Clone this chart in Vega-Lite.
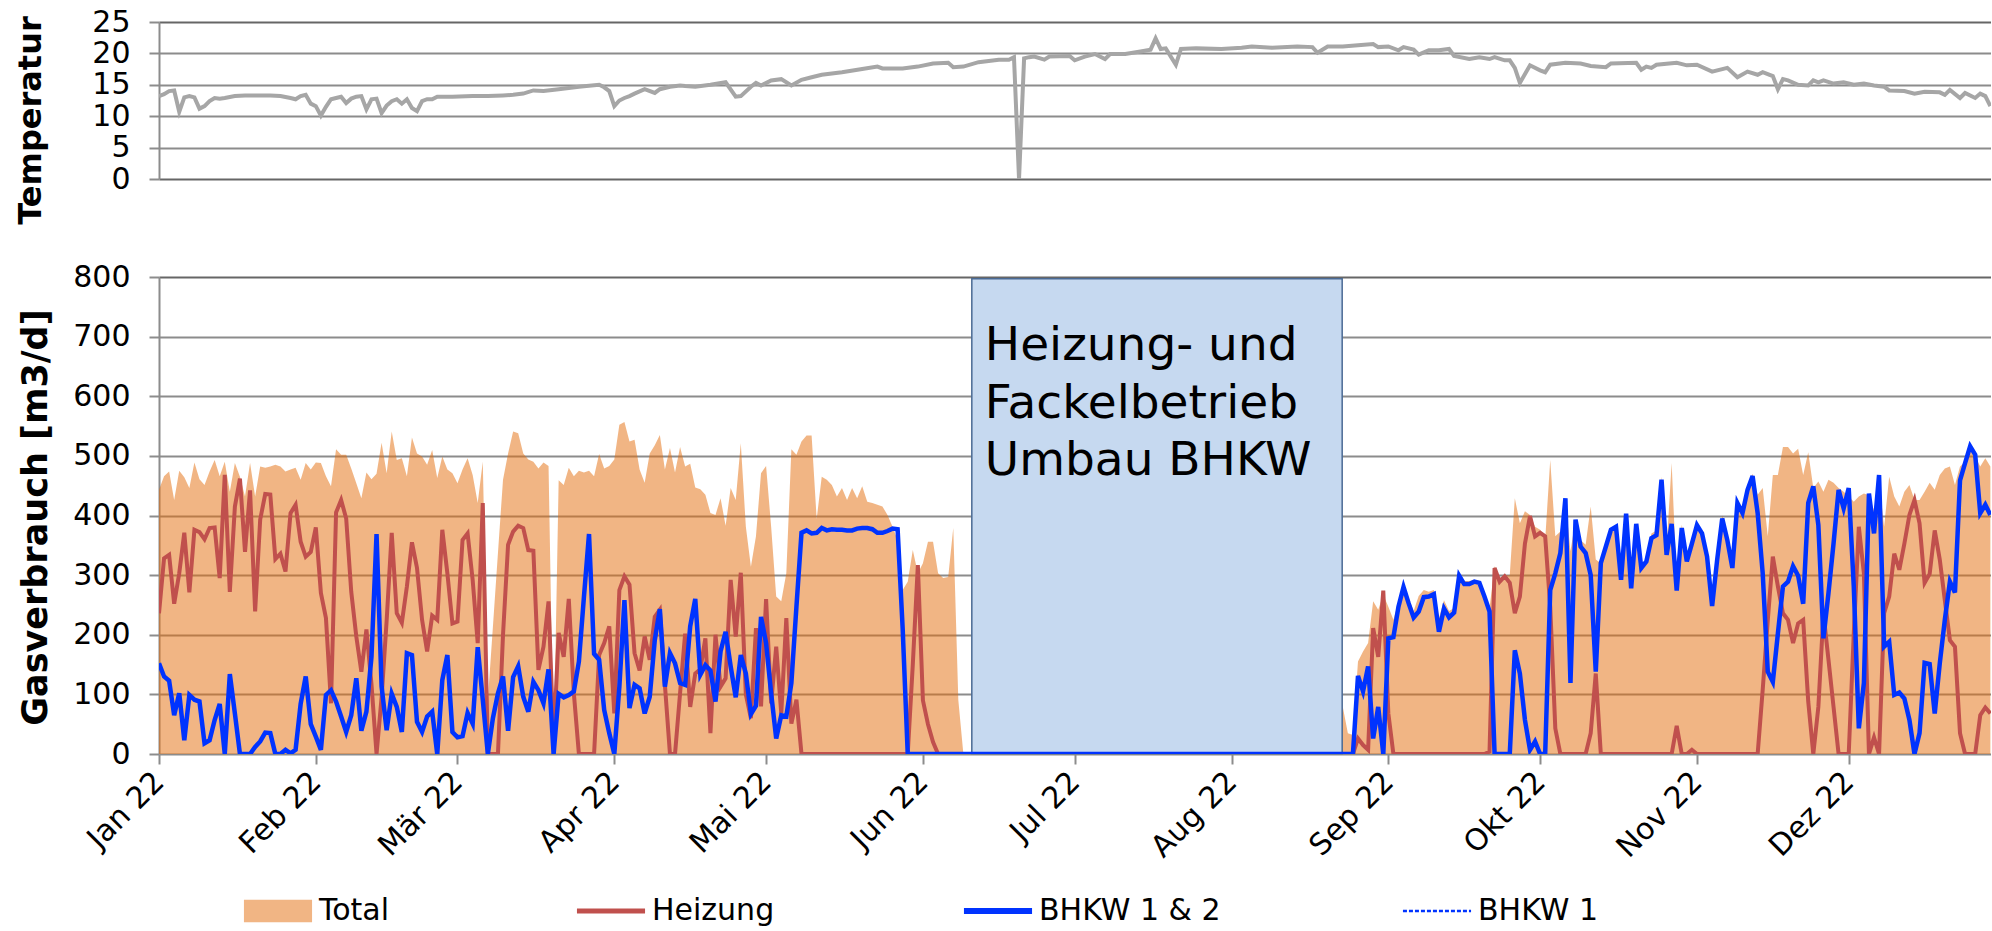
{
"$schema": "https://vega.github.io/schema/vega-lite/v6.json",
"background": "white",
"padding": {"left": 14, "top": 7, "right": 0, "bottom": 0},
"spacing": 37,
"config": {
  "font": "DejaVu Sans",
  "view": {"stroke": null},
  "axis": {"labelFont": "DejaVu Sans", "labelFontSize": 30, "labelColor": "black", "titleFont": "DejaVu Sans", "titleFontSize": 32, "titleFontWeight": "bold", "titleColor": "black", "gridColor": "#8c8c8c", "gridWidth": 2, "domainColor": "#8c8c8c", "domainWidth": 2, "tickColor": "#8c8c8c", "tickWidth": 2, "tickSize": 10, "labelPadding": 19},
  "legend": {"title": null, "orient": "none", "direction": "horizontal", "padding": 0, "symbolSize": 900, "labelOffset": 26, "columnPadding": 176, "labelFont": "DejaVu Sans", "labelFontSize": 30, "labelColor": "black", "labelLimit": 400}
},
"resolve": {"scale": {"color": "independent"}, "legend": {"color": "independent"}},
"datasets": {
"temp": [
{"date":"2022-01-01","temp":13.2},{"date":"2022-01-02","temp":13.5},{"date":"2022-01-03","temp":14.0},{"date":"2022-01-04","temp":14.1},{"date":"2022-01-05","temp":10.7},{"date":"2022-01-06","temp":13.0},{"date":"2022-01-07","temp":13.2},{"date":"2022-01-08","temp":13.0},{"date":"2022-01-09","temp":11.2},{"date":"2022-01-10","temp":11.6},{"date":"2022-01-11","temp":12.4},{"date":"2022-01-12","temp":12.9},{"date":"2022-01-13","temp":12.8},{"date":"2022-01-14","temp":12.9},{"date":"2022-01-16","temp":13.2},{"date":"2022-01-18","temp":13.3},{"date":"2022-01-20","temp":13.3},{"date":"2022-01-21","temp":13.3},{"date":"2022-01-23","temp":13.3},{"date":"2022-01-25","temp":13.2},{"date":"2022-01-27","temp":12.9},{"date":"2022-01-28","temp":12.7},{"date":"2022-01-29","temp":13.2},{"date":"2022-01-30","temp":13.4},{"date":"2022-01-31","temp":12.0},
{"date":"2022-02-01","temp":11.6},{"date":"2022-02-02","temp":10.1},{"date":"2022-02-03","temp":11.5},{"date":"2022-02-04","temp":12.7},{"date":"2022-02-05","temp":12.9},{"date":"2022-02-06","temp":13.1},{"date":"2022-02-07","temp":12.1},{"date":"2022-02-08","temp":12.8},{"date":"2022-02-09","temp":13.1},{"date":"2022-02-10","temp":13.2},{"date":"2022-02-11","temp":11.1},{"date":"2022-02-12","temp":12.7},{"date":"2022-02-13","temp":12.8},{"date":"2022-02-14","temp":10.5},{"date":"2022-02-15","temp":11.7},{"date":"2022-02-16","temp":12.4},{"date":"2022-02-17","temp":12.7},{"date":"2022-02-18","temp":12.0},{"date":"2022-02-19","temp":12.7},{"date":"2022-02-20","temp":11.3},{"date":"2022-02-21","temp":10.8},{"date":"2022-02-22","temp":12.4},{"date":"2022-02-23","temp":12.7},{"date":"2022-02-24","temp":12.7},{"date":"2022-02-25","temp":13.1},{"date":"2022-02-28","temp":13.1},
{"date":"2022-03-04","temp":13.2},{"date":"2022-03-07","temp":13.2},{"date":"2022-03-10","temp":13.3},{"date":"2022-03-12","temp":13.4},{"date":"2022-03-14","temp":13.6},{"date":"2022-03-16","temp":14.1},{"date":"2022-03-18","temp":14.0},{"date":"2022-03-21","temp":14.3},{"date":"2022-03-25","temp":14.7},{"date":"2022-03-29","temp":15.0},{"date":"2022-03-30","temp":14.6},{"date":"2022-03-31","temp":14.0},
{"date":"2022-04-01","temp":11.6},{"date":"2022-04-02","temp":12.5},{"date":"2022-04-03","temp":12.9},{"date":"2022-04-04","temp":13.2},{"date":"2022-04-05","temp":13.6},{"date":"2022-04-07","temp":14.3},{"date":"2022-04-09","temp":13.7},{"date":"2022-04-10","temp":14.3},{"date":"2022-04-12","temp":14.7},{"date":"2022-04-14","temp":14.9},{"date":"2022-04-15","temp":14.8},{"date":"2022-04-17","temp":14.7},{"date":"2022-04-20","temp":15.0},{"date":"2022-04-23","temp":15.4},{"date":"2022-04-25","temp":13.1},{"date":"2022-04-26","temp":13.2},{"date":"2022-04-28","temp":14.7},{"date":"2022-04-29","temp":15.3},{"date":"2022-04-30","temp":14.9},
{"date":"2022-05-02","temp":15.7},{"date":"2022-05-04","temp":15.9},{"date":"2022-05-06","temp":14.9},{"date":"2022-05-08","temp":15.8},{"date":"2022-05-10","temp":16.2},{"date":"2022-05-12","temp":16.6},{"date":"2022-05-16","temp":17.0},{"date":"2022-05-20","temp":17.5},{"date":"2022-05-23","temp":17.9},{"date":"2022-05-24","temp":17.6},{"date":"2022-05-28","temp":17.6},{"date":"2022-05-31","temp":17.9},
{"date":"2022-06-03","temp":18.4},{"date":"2022-06-06","temp":18.5},{"date":"2022-06-07","temp":17.8},{"date":"2022-06-09","temp":17.9},{"date":"2022-06-12","temp":18.6},{"date":"2022-06-16","temp":19.0},{"date":"2022-06-18","temp":19.0},{"date":"2022-06-19","temp":19.4},{"date":"2022-06-20","temp":0},{"date":"2022-06-21","temp":19.2},{"date":"2022-06-22","temp":19.4},{"date":"2022-06-23","temp":19.5},{"date":"2022-06-25","temp":19.0},{"date":"2022-06-26","temp":19.5},{"date":"2022-06-30","temp":19.6},
{"date":"2022-07-01","temp":18.9},{"date":"2022-07-03","temp":19.5},{"date":"2022-07-05","temp":19.9},{"date":"2022-07-07","temp":19.1},{"date":"2022-07-08","temp":19.9},{"date":"2022-07-11","temp":19.9},{"date":"2022-07-14","temp":20.3},{"date":"2022-07-16","temp":20.6},{"date":"2022-07-17","temp":22.4},{"date":"2022-07-18","temp":20.7},{"date":"2022-07-19","temp":20.8},{"date":"2022-07-21","temp":18.2},{"date":"2022-07-22","temp":20.7},{"date":"2022-07-25","temp":20.8},{"date":"2022-07-30","temp":20.7},
{"date":"2022-08-03","temp":20.9},{"date":"2022-08-05","temp":21.1},{"date":"2022-08-09","temp":20.9},{"date":"2022-08-14","temp":21.1},{"date":"2022-08-17","temp":21.0},{"date":"2022-08-18","temp":20.1},{"date":"2022-08-20","temp":21.1},{"date":"2022-08-23","temp":21.1},{"date":"2022-08-26","temp":21.3},{"date":"2022-08-29","temp":21.5},{"date":"2022-08-30","temp":21.0},
{"date":"2022-09-01","temp":21.1},{"date":"2022-09-03","temp":20.5},{"date":"2022-09-04","temp":21.0},{"date":"2022-09-06","temp":20.6},{"date":"2022-09-07","temp":19.8},{"date":"2022-09-09","temp":20.5},{"date":"2022-09-11","temp":20.5},{"date":"2022-09-13","temp":20.7},{"date":"2022-09-14","temp":19.6},{"date":"2022-09-17","temp":19.1},{"date":"2022-09-19","temp":19.4},{"date":"2022-09-21","temp":19.1},{"date":"2022-09-22","temp":19.4},{"date":"2022-09-24","temp":18.9},{"date":"2022-09-25","temp":18.9},{"date":"2022-09-26","temp":17.7},{"date":"2022-09-27","temp":15.3},{"date":"2022-09-29","temp":18.1},
{"date":"2022-10-01","temp":17.3},{"date":"2022-10-02","temp":17.0},{"date":"2022-10-03","temp":18.2},{"date":"2022-10-06","temp":18.5},{"date":"2022-10-09","temp":18.4},{"date":"2022-10-11","temp":18.0},{"date":"2022-10-14","temp":17.8},{"date":"2022-10-15","temp":18.4},{"date":"2022-10-20","temp":18.5},{"date":"2022-10-21","temp":17.4},{"date":"2022-10-22","temp":17.9},{"date":"2022-10-23","temp":17.7},{"date":"2022-10-24","temp":18.2},{"date":"2022-10-28","temp":18.5},{"date":"2022-10-30","temp":18.1},
{"date":"2022-11-01","temp":18.2},{"date":"2022-11-04","temp":17.1},{"date":"2022-11-07","temp":17.7},{"date":"2022-11-09","temp":16.2},{"date":"2022-11-11","temp":17.1},{"date":"2022-11-13","temp":16.6},{"date":"2022-11-14","temp":17.0},{"date":"2022-11-16","temp":16.4},{"date":"2022-11-17","temp":14.3},{"date":"2022-11-18","temp":15.9},{"date":"2022-11-19","temp":15.7},{"date":"2022-11-21","temp":15.0},{"date":"2022-11-23","temp":14.9},{"date":"2022-11-24","temp":15.7},{"date":"2022-11-25","temp":15.4},{"date":"2022-11-26","temp":15.7},{"date":"2022-11-28","temp":15.2},{"date":"2022-11-30","temp":15.4},
{"date":"2022-12-02","temp":15.0},{"date":"2022-12-04","temp":15.2},{"date":"2022-12-06","temp":14.9},{"date":"2022-12-08","temp":14.7},{"date":"2022-12-09","temp":14.1},{"date":"2022-12-12","temp":14.0},{"date":"2022-12-14","temp":13.6},{"date":"2022-12-16","temp":13.9},{"date":"2022-12-19","temp":13.8},{"date":"2022-12-20","temp":13.4},{"date":"2022-12-21","temp":14.2},{"date":"2022-12-23","temp":12.9},{"date":"2022-12-24","temp":13.7},{"date":"2022-12-26","temp":12.9},{"date":"2022-12-27","temp":13.6},{"date":"2022-12-28","temp":13.2},{"date":"2022-12-29","temp":11.6}
],
"gas": [
{"date":"2022-01-01","total":443,"heizung":236,"bhkw":152},{"date":"2022-01-02","total":466,"heizung":328,"bhkw":130},{"date":"2022-01-03","total":474,"heizung":334,"bhkw":123},{"date":"2022-01-04","total":426,"heizung":252,"bhkw":65},{"date":"2022-01-05","total":475,"heizung":303,"bhkw":102},{"date":"2022-01-06","total":464,"heizung":371,"bhkw":23},{"date":"2022-01-07","total":446,"heizung":271,"bhkw":99},{"date":"2022-01-08","total":489,"heizung":376,"bhkw":91},{"date":"2022-01-09","total":461,"heizung":372,"bhkw":88},{"date":"2022-01-10","total":451,"heizung":360,"bhkw":18},{"date":"2022-01-11","total":474,"heizung":379,"bhkw":23},{"date":"2022-01-12","total":493,"heizung":380,"bhkw":57},{"date":"2022-01-13","total":466,"heizung":295,"bhkw":84},{"date":"2022-01-14","total":490,"heizung":468,"bhkw":0},{"date":"2022-01-15","total":440,"heizung":272,"bhkw":134},{"date":"2022-01-16","total":488,"heizung":415,"bhkw":68},{"date":"2022-01-17","total":465,"heizung":462,"bhkw":0},{"date":"2022-01-18","total":432,"heizung":339,"bhkw":0},{"date":"2022-01-19","total":488,"heizung":442,"bhkw":0},{"date":"2022-01-20","total":432,"heizung":239,"bhkw":12},{"date":"2022-01-21","total":482,"heizung":393,"bhkw":21},{"date":"2022-01-22","total":480,"heizung":436,"bhkw":36},{"date":"2022-01-23","total":482,"heizung":435,"bhkw":35},{"date":"2022-01-24","total":485,"heizung":327,"bhkw":0},{"date":"2022-01-25","total":482,"heizung":336,"bhkw":0},{"date":"2022-01-26","total":474,"heizung":306,"bhkw":7},{"date":"2022-01-27","total":477,"heizung":404,"bhkw":1},{"date":"2022-01-28","total":480,"heizung":418,"bhkw":7},{"date":"2022-01-29","total":460,"heizung":356,"bhkw":84},{"date":"2022-01-30","total":488,"heizung":331,"bhkw":130},{"date":"2022-01-31","total":477,"heizung":339,"bhkw":50},
{"date":"2022-02-01","total":489,"heizung":380,"bhkw":29},{"date":"2022-02-02","total":488,"heizung":270,"bhkw":7},{"date":"2022-02-03","total":466,"heizung":228,"bhkw":99},{"date":"2022-02-04","total":449,"heizung":85,"bhkw":107},{"date":"2022-02-05","total":511,"heizung":405,"bhkw":88},{"date":"2022-02-06","total":502,"heizung":426,"bhkw":63},{"date":"2022-02-07","total":502,"heizung":395,"bhkw":37},{"date":"2022-02-08","total":479,"heizung":272,"bhkw":65},{"date":"2022-02-09","total":454,"heizung":197,"bhkw":127},{"date":"2022-02-10","total":429,"heizung":138,"bhkw":39},{"date":"2022-02-11","total":472,"heizung":209,"bhkw":71},{"date":"2022-02-12","total":461,"heizung":117,"bhkw":163},{"date":"2022-02-13","total":470,"heizung":0,"bhkw":369},{"date":"2022-02-14","total":522,"heizung":95,"bhkw":113},{"date":"2022-02-15","total":471,"heizung":224,"bhkw":40},{"date":"2022-02-16","total":541,"heizung":371,"bhkw":101},{"date":"2022-02-17","total":493,"heizung":236,"bhkw":79},{"date":"2022-02-18","total":496,"heizung":220,"bhkw":37},{"date":"2022-02-19","total":466,"heizung":281,"bhkw":169},{"date":"2022-02-20","total":531,"heizung":355,"bhkw":166},{"date":"2022-02-21","total":504,"heizung":312,"bhkw":54},{"date":"2022-02-22","total":499,"heizung":225,"bhkw":37},{"date":"2022-02-23","total":485,"heizung":172,"bhkw":63},{"date":"2022-02-24","total":510,"heizung":232,"bhkw":71},{"date":"2022-02-25","total":463,"heizung":225,"bhkw":0},{"date":"2022-02-26","total":499,"heizung":376,"bhkw":124},{"date":"2022-02-27","total":477,"heizung":303,"bhkw":166},{"date":"2022-02-28","total":471,"heizung":219,"bhkw":37},
{"date":"2022-03-01","total":454,"heizung":222,"bhkw":28},{"date":"2022-03-02","total":477,"heizung":359,"bhkw":30},{"date":"2022-03-03","total":496,"heizung":370,"bhkw":69},{"date":"2022-03-04","total":468,"heizung":292,"bhkw":51},{"date":"2022-03-05","total":421,"heizung":186,"bhkw":179},{"date":"2022-03-06","total":490,"heizung":421,"bhkw":91},{"date":"2022-03-07","total":90,"heizung":0,"bhkw":0},{"date":"2022-03-08","total":213,"heizung":0,"bhkw":60},{"date":"2022-03-09","total":337,"heizung":0,"bhkw":102},{"date":"2022-03-10","total":460,"heizung":200,"bhkw":130},{"date":"2022-03-11","total":504,"heizung":351,"bhkw":39},{"date":"2022-03-12","total":541,"heizung":373,"bhkw":129},{"date":"2022-03-13","total":538,"heizung":383,"bhkw":147},{"date":"2022-03-14","total":504,"heizung":379,"bhkw":96},{"date":"2022-03-15","total":494,"heizung":342,"bhkw":71},{"date":"2022-03-16","total":490,"heizung":341,"bhkw":121},{"date":"2022-03-17","total":479,"heizung":141,"bhkw":107},{"date":"2022-03-18","total":489,"heizung":180,"bhkw":85},{"date":"2022-03-19","total":483,"heizung":256,"bhkw":142},{"date":"2022-03-20","total":0,"heizung":20,"bhkw":0},{"date":"2022-03-21","total":459,"heizung":203,"bhkw":101},{"date":"2022-03-22","total":451,"heizung":163,"bhkw":95},{"date":"2022-03-23","total":480,"heizung":260,"bhkw":99},{"date":"2022-03-24","total":466,"heizung":102,"bhkw":105},{"date":"2022-03-25","total":475,"heizung":0,"bhkw":155},{"date":"2022-03-26","total":472,"heizung":0,"bhkw":264},{"date":"2022-03-27","total":475,"heizung":0,"bhkw":369},{"date":"2022-03-28","total":466,"heizung":0,"bhkw":168},{"date":"2022-03-29","total":503,"heizung":166,"bhkw":158},{"date":"2022-03-30","total":479,"heizung":186,"bhkw":74},{"date":"2022-03-31","total":483,"heizung":214,"bhkw":35},
{"date":"2022-04-01","total":494,"heizung":68,"bhkw":0},{"date":"2022-04-02","total":552,"heizung":275,"bhkw":113},{"date":"2022-04-03","total":557,"heizung":298,"bhkw":258},{"date":"2022-04-04","total":524,"heizung":284,"bhkw":77},{"date":"2022-04-05","total":527,"heizung":169,"bhkw":116},{"date":"2022-04-06","total":477,"heizung":140,"bhkw":110},{"date":"2022-04-07","total":455,"heizung":197,"bhkw":68},{"date":"2022-04-08","total":504,"heizung":158,"bhkw":96},{"date":"2022-04-09","total":518,"heizung":230,"bhkw":191},{"date":"2022-04-10","total":535,"heizung":242,"bhkw":243},{"date":"2022-04-11","total":477,"heizung":116,"bhkw":113},{"date":"2022-04-12","total":513,"heizung":0,"bhkw":169},{"date":"2022-04-13","total":472,"heizung":0,"bhkw":152},{"date":"2022-04-14","total":515,"heizung":102,"bhkw":119},{"date":"2022-04-15","total":482,"heizung":202,"bhkw":116},{"date":"2022-04-16","total":487,"heizung":79,"bhkw":214},{"date":"2022-04-17","total":447,"heizung":135,"bhkw":260},{"date":"2022-04-18","total":444,"heizung":142,"bhkw":133},{"date":"2022-04-19","total":435,"heizung":194,"bhkw":149},{"date":"2022-04-20","total":404,"heizung":35,"bhkw":140},{"date":"2022-04-21","total":401,"heizung":200,"bhkw":88},{"date":"2022-04-22","total":429,"heizung":113,"bhkw":172},{"date":"2022-04-23","total":383,"heizung":127,"bhkw":205},{"date":"2022-04-24","total":446,"heizung":292,"bhkw":147},{"date":"2022-04-25","total":426,"heizung":197,"bhkw":95},{"date":"2022-04-26","total":521,"heizung":304,"bhkw":166},{"date":"2022-04-27","total":381,"heizung":100,"bhkw":135},{"date":"2022-04-28","total":314,"heizung":60,"bhkw":67},{"date":"2022-04-29","total":365,"heizung":211,"bhkw":81},{"date":"2022-04-30","total":471,"heizung":80,"bhkw":230},
{"date":"2022-05-01","total":483,"heizung":260,"bhkw":186},{"date":"2022-05-02","total":381,"heizung":85,"bhkw":102},{"date":"2022-05-03","total":264,"heizung":180,"bhkw":26},{"date":"2022-05-04","total":256,"heizung":68,"bhkw":65},{"date":"2022-05-05","total":303,"heizung":228,"bhkw":63},{"date":"2022-05-06","total":511,"heizung":51,"bhkw":119},{"date":"2022-05-07","total":502,"heizung":91,"bhkw":247},{"date":"2022-05-08","total":524,"heizung":0,"bhkw":371},{"date":"2022-05-09","total":534,"heizung":0,"bhkw":375},{"date":"2022-05-10","total":534,"heizung":0,"bhkw":370},{"date":"2022-05-11","total":394,"heizung":0,"bhkw":371},{"date":"2022-05-12","total":465,"heizung":0,"bhkw":379},{"date":"2022-05-13","total":460,"heizung":0,"bhkw":375},{"date":"2022-05-14","total":451,"heizung":0,"bhkw":377},{"date":"2022-05-15","total":432,"heizung":0,"bhkw":376},{"date":"2022-05-16","total":446,"heizung":0,"bhkw":376},{"date":"2022-05-17","total":426,"heizung":0,"bhkw":375},{"date":"2022-05-18","total":446,"heizung":0,"bhkw":375},{"date":"2022-05-19","total":429,"heizung":0,"bhkw":378},{"date":"2022-05-20","total":449,"heizung":0,"bhkw":379},{"date":"2022-05-21","total":423,"heizung":0,"bhkw":379},{"date":"2022-05-22","total":421,"heizung":0,"bhkw":377},{"date":"2022-05-23","total":418,"heizung":0,"bhkw":371},{"date":"2022-05-24","total":415,"heizung":0,"bhkw":371},{"date":"2022-05-25","total":401,"heizung":0,"bhkw":374},{"date":"2022-05-26","total":381,"heizung":0,"bhkw":378},{"date":"2022-05-27","total":359,"heizung":0,"bhkw":377},{"date":"2022-05-28","total":275,"heizung":0,"bhkw":210},{"date":"2022-05-29","total":289,"heizung":0,"bhkw":0},{"date":"2022-05-30","total":342,"heizung":150,"bhkw":0},{"date":"2022-05-31","total":303,"heizung":317,"bhkw":0},
{"date":"2022-06-01","total":320,"heizung":90,"bhkw":0},{"date":"2022-06-02","total":356,"heizung":50,"bhkw":0},{"date":"2022-06-03","total":356,"heizung":20,"bhkw":0},{"date":"2022-06-04","total":303,"heizung":0,"bhkw":0},{"date":"2022-06-05","total":295,"heizung":0,"bhkw":0},{"date":"2022-06-06","total":297,"heizung":0,"bhkw":0},{"date":"2022-06-07","total":379,"heizung":0,"bhkw":0},{"date":"2022-06-08","total":90,"heizung":0,"bhkw":0},{"date":"2022-06-09","total":0,"heizung":0,"bhkw":0},
{"date":"2022-08-22","total":0,"heizung":0,"bhkw":0},{"date":"2022-08-23","total":79,"heizung":0,"bhkw":0},{"date":"2022-08-24","total":35,"heizung":0,"bhkw":0},{"date":"2022-08-25","total":32,"heizung":0,"bhkw":0},{"date":"2022-08-26","total":155,"heizung":26,"bhkw":131},{"date":"2022-08-27","total":172,"heizung":15,"bhkw":105},{"date":"2022-08-28","total":186,"heizung":7,"bhkw":147},{"date":"2022-08-29","total":256,"heizung":211,"bhkw":26},{"date":"2022-08-30","total":242,"heizung":163,"bhkw":79},{"date":"2022-08-31","total":267,"heizung":274,"bhkw":0},
{"date":"2022-09-01","total":247,"heizung":68,"bhkw":194},{"date":"2022-09-02","total":225,"heizung":0,"bhkw":196},{"date":"2022-09-03","total":255,"heizung":0,"bhkw":247},{"date":"2022-09-04","total":285,"heizung":0,"bhkw":280},{"date":"2022-09-05","total":262,"heizung":0,"bhkw":253},{"date":"2022-09-06","total":240,"heizung":0,"bhkw":229},{"date":"2022-09-07","total":265,"heizung":0,"bhkw":239},{"date":"2022-09-08","total":275,"heizung":0,"bhkw":263},{"date":"2022-09-09","total":272,"heizung":0,"bhkw":264},{"date":"2022-09-10","total":275,"heizung":0,"bhkw":268},{"date":"2022-09-11","total":228,"heizung":0,"bhkw":205},{"date":"2022-09-12","total":258,"heizung":0,"bhkw":244},{"date":"2022-09-13","total":240,"heizung":0,"bhkw":229},{"date":"2022-09-14","total":245,"heizung":0,"bhkw":237},{"date":"2022-09-15","total":300,"heizung":0,"bhkw":299},{"date":"2022-09-16","total":290,"heizung":0,"bhkw":285},{"date":"2022-09-17","total":290,"heizung":0,"bhkw":285},{"date":"2022-09-18","total":292,"heizung":0,"bhkw":289},{"date":"2022-09-19","total":290,"heizung":0,"bhkw":287},{"date":"2022-09-20","total":270,"heizung":0,"bhkw":264},{"date":"2022-09-21","total":245,"heizung":4,"bhkw":239},{"date":"2022-09-22","total":315,"heizung":312,"bhkw":0},{"date":"2022-09-23","total":295,"heizung":289,"bhkw":0},{"date":"2022-09-24","total":300,"heizung":298,"bhkw":0},{"date":"2022-09-25","total":300,"heizung":287,"bhkw":0},{"date":"2022-09-26","total":429,"heizung":236,"bhkw":174},{"date":"2022-09-27","total":387,"heizung":264,"bhkw":135},{"date":"2022-09-28","total":407,"heizung":353,"bhkw":57},{"date":"2022-09-29","total":401,"heizung":399,"bhkw":7},{"date":"2022-09-30","total":381,"heizung":365,"bhkw":21},
{"date":"2022-10-01","total":376,"heizung":371,"bhkw":0},{"date":"2022-10-02","total":359,"heizung":365,"bhkw":0},{"date":"2022-10-03","total":493,"heizung":247,"bhkw":275},{"date":"2022-10-04","total":365,"heizung":43,"bhkw":303},{"date":"2022-10-05","total":373,"heizung":0,"bhkw":337},{"date":"2022-10-06","total":426,"heizung":0,"bhkw":429},{"date":"2022-10-07","total":340,"heizung":0,"bhkw":119},{"date":"2022-10-08","total":393,"heizung":0,"bhkw":393},{"date":"2022-10-09","total":359,"heizung":0,"bhkw":348},{"date":"2022-10-10","total":351,"heizung":0,"bhkw":337},{"date":"2022-10-11","total":415,"heizung":35,"bhkw":300},{"date":"2022-10-12","total":326,"heizung":135,"bhkw":138},{"date":"2022-10-13","total":320,"heizung":0,"bhkw":320},{"date":"2022-10-14","total":348,"heizung":0,"bhkw":348},{"date":"2022-10-15","total":376,"heizung":0,"bhkw":376},{"date":"2022-10-16","total":381,"heizung":0,"bhkw":381},{"date":"2022-10-17","total":297,"heizung":0,"bhkw":292},{"date":"2022-10-18","total":404,"heizung":0,"bhkw":403},{"date":"2022-10-19","total":281,"heizung":0,"bhkw":278},{"date":"2022-10-20","total":386,"heizung":0,"bhkw":386},{"date":"2022-10-21","total":314,"heizung":0,"bhkw":312},{"date":"2022-10-22","total":325,"heizung":0,"bhkw":323},{"date":"2022-10-23","total":370,"heizung":0,"bhkw":362},{"date":"2022-10-24","total":375,"heizung":0,"bhkw":367},{"date":"2022-10-25","total":465,"heizung":0,"bhkw":460},{"date":"2022-10-26","total":345,"heizung":0,"bhkw":334},{"date":"2022-10-27","total":488,"heizung":0,"bhkw":386},{"date":"2022-10-28","total":290,"heizung":47,"bhkw":274},{"date":"2022-10-29","total":385,"heizung":0,"bhkw":379},{"date":"2022-10-30","total":330,"heizung":0,"bhkw":323},{"date":"2022-10-31","total":360,"heizung":7,"bhkw":353},
{"date":"2022-11-01","total":390,"heizung":0,"bhkw":384},{"date":"2022-11-02","total":375,"heizung":0,"bhkw":370},{"date":"2022-11-03","total":340,"heizung":0,"bhkw":331},{"date":"2022-11-04","total":260,"heizung":0,"bhkw":248},{"date":"2022-11-05","total":335,"heizung":0,"bhkw":326},{"date":"2022-11-06","total":400,"heizung":0,"bhkw":395},{"date":"2022-11-07","total":365,"heizung":0,"bhkw":359},{"date":"2022-11-08","total":320,"heizung":0,"bhkw":312},{"date":"2022-11-09","total":425,"heizung":0,"bhkw":421},{"date":"2022-11-10","total":410,"heizung":0,"bhkw":404},{"date":"2022-11-11","total":448,"heizung":0,"bhkw":443},{"date":"2022-11-12","total":470,"heizung":0,"bhkw":466},{"date":"2022-11-13","total":435,"heizung":0,"bhkw":404},{"date":"2022-11-14","total":446,"heizung":108,"bhkw":303},{"date":"2022-11-15","total":365,"heizung":224,"bhkw":138},{"date":"2022-11-16","total":468,"heizung":331,"bhkw":121},{"date":"2022-11-17","total":468,"heizung":281,"bhkw":202},{"date":"2022-11-18","total":515,"heizung":236,"bhkw":281},{"date":"2022-11-19","total":515,"heizung":225,"bhkw":289},{"date":"2022-11-20","total":504,"heizung":186,"bhkw":315},{"date":"2022-11-21","total":512,"heizung":219,"bhkw":299},{"date":"2022-11-22","total":468,"heizung":225,"bhkw":252},{"date":"2022-11-23","total":506,"heizung":88,"bhkw":421},{"date":"2022-11-24","total":446,"heizung":0,"bhkw":449},{"date":"2022-11-25","total":457,"heizung":79,"bhkw":384},{"date":"2022-11-26","total":440,"heizung":236,"bhkw":194},{"date":"2022-11-27","total":460,"heizung":158,"bhkw":270},{"date":"2022-11-28","total":455,"heizung":79,"bhkw":353},{"date":"2022-11-29","total":446,"heizung":0,"bhkw":443},{"date":"2022-11-30","total":440,"heizung":0,"bhkw":412},
{"date":"2022-12-01","total":432,"heizung":0,"bhkw":446},{"date":"2022-12-02","total":423,"heizung":202,"bhkw":281},{"date":"2022-12-03","total":432,"heizung":381,"bhkw":43},{"date":"2022-12-04","total":437,"heizung":303,"bhkw":119},{"date":"2022-12-05","total":434,"heizung":0,"bhkw":437},{"date":"2022-12-06","total":409,"heizung":28,"bhkw":370},{"date":"2022-12-07","total":457,"heizung":0,"bhkw":468},{"date":"2022-12-08","total":381,"heizung":236,"bhkw":180},{"date":"2022-12-09","total":465,"heizung":264,"bhkw":188},{"date":"2022-12-10","total":432,"heizung":336,"bhkw":99},{"date":"2022-12-11","total":415,"heizung":309,"bhkw":103},{"date":"2022-12-12","total":440,"heizung":353,"bhkw":93},{"date":"2022-12-13","total":451,"heizung":401,"bhkw":57},{"date":"2022-12-14","total":426,"heizung":426,"bhkw":0},{"date":"2022-12-15","total":426,"heizung":387,"bhkw":35},{"date":"2022-12-16","total":440,"heizung":287,"bhkw":153},{"date":"2022-12-17","total":455,"heizung":302,"bhkw":151},{"date":"2022-12-18","total":443,"heizung":375,"bhkw":68},{"date":"2022-12-19","total":468,"heizung":326,"bhkw":152},{"date":"2022-12-20","total":479,"heizung":258,"bhkw":225},{"date":"2022-12-21","total":482,"heizung":191,"bhkw":289},{"date":"2022-12-22","total":451,"heizung":180,"bhkw":271},{"date":"2022-12-23","total":482,"heizung":35,"bhkw":459},{"date":"2022-12-24","total":490,"heizung":0,"bhkw":488},{"date":"2022-12-25","total":511,"heizung":0,"bhkw":516},{"date":"2022-12-26","total":499,"heizung":0,"bhkw":502},{"date":"2022-12-27","total":482,"heizung":65,"bhkw":404},{"date":"2022-12-28","total":496,"heizung":78,"bhkw":418},{"date":"2022-12-29","total":482,"heizung":68,"bhkw":401}
],
"note": [
{"start":"2022-06-10T16:00:00Z","end":"2022-08-22T21:00:00Z","label":"Heizung- und\nFackelbetrieb\nUmbau BHKW"}
]
},
"vconcat": [
{
  "width": 1832, "height": 157,
  "data": {"name": "temp"},
  "mark": {"type": "line", "color": "#a6a6a6", "strokeWidth": 4, "clip": true},
  "encoding": {
    "x": {"field": "date", "type": "temporal", "scale": {"type": "utc", "domain": [{"year": 2022, "month": 1, "date": 1, "utc": true}, {"year": 2022, "month": 12, "date": 29, "hours": 3, "utc": true}]}, "axis": null},
    "y": {"field": "temp", "type": "quantitative", "scale": {"domain": [0, 25]}, "axis": {"title": "Temperatur", "values": [0, 5, 10, 15, 20, 25], "titleX": -129, "titleY": 98, "titleBaseline": "middle", "gridColor": {"condition": {"test": "datum.value === 25 || datum.value === 0", "value": "#666666"}, "value": "#8c8c8c"}}}
  }
},
{
  "width": 1832, "height": 477,
  "data": {"name": "gas"},
  "encoding": {
    "x": {"field": "date", "type": "temporal", "scale": {"type": "utc", "domain": [{"year": 2022, "month": 1, "date": 1, "utc": true}, {"year": 2022, "month": 12, "date": 29, "hours": 3, "utc": true}]},
      "axis": {"title": null, "grid": false, "domain": false, "labelAngle": -45, "labelAlign": "right", "labelBaseline": "middle", "labelPadding": 13, "labelDx": 9, "labelDy": 6,
        "values": [{"year":2022,"month":1,"date":1,"utc":true},{"year":2022,"month":2,"date":1,"utc":true},{"year":2022,"month":3,"date":1,"utc":true},{"year":2022,"month":4,"date":1,"utc":true},{"year":2022,"month":5,"date":1,"utc":true},{"year":2022,"month":6,"date":1,"utc":true},{"year":2022,"month":7,"date":1,"utc":true},{"year":2022,"month":8,"date":1,"utc":true},{"year":2022,"month":9,"date":1,"utc":true},{"year":2022,"month":10,"date":1,"utc":true},{"year":2022,"month":11,"date":1,"utc":true},{"year":2022,"month":12,"date":1,"utc":true}],
        "labelExpr": "['Jan','Feb','Mär','Apr','Mai','Jun','Jul','Aug','Sep','Okt','Nov','Dez'][utcmonth(datum.value)] + ' 22'"}}
  },
  "layer": [
    {
      "mark": {"type": "area", "opacity": 0.5, "clip": true},
      "encoding": {
        "y": {"field": "total", "type": "quantitative", "scale": {"domain": [0, 800]}, "axis": {"title": "Gasverbrauch [m3/d]", "titleFontSize": 35, "values": [0,100,200,300,400,500,600,700,800], "titleX": -124, "titleY": 240, "titleBaseline": "middle", "gridColor": {"condition": {"test": "datum.value === 800", "value": "#666666"}, "value": "#8c8c8c"}}},
        "color": {"datum": "Total", "type": "nominal",
          "scale": {"domain": ["Total", "Heizung", "BHKW 1 & 2", "BHKW 1"], "range": ["#E46C0A", "#C0504D", "#0033FF", "#0033FF"]},
          "legend": {"legendX": 104, "legendY": 619,
            "encode": {"symbols": {"update": {
              "shape": {"signal": "datum.value === 'Total' ? 'M-2.27,-0.75H2.27V0.75H-2.27Z' : 'M-2.27,0H2.27'"},
              "fill": {"signal": "datum.value === 'Total' ? '#F1B584' : 'transparent'"},
              "stroke": {"signal": "datum.value === 'Total' ? 'transparent' : (datum.value === 'Heizung' ? '#C0504D' : '#0033FF')"},
              "strokeWidth": {"signal": "datum.value === 'Total' ? 0 : (datum.value === 'BHKW 1' ? 2.5 : (datum.value === 'Heizung' ? 5 : 6))"},
              "strokeDash": {"signal": "datum.value === 'BHKW 1' ? [4, 2] : [1, 0]"},
              "opacity": {"value": 1}, "fillOpacity": {"signal": "datum.value === 'Total' ? 0.5 : 1"}, "strokeOpacity": {"signal": "datum.value === 'Total' ? 0 : 1"}
            }}}}
        }
      }
    },
    {
      "data": {"name": "note"},
      "mark": {"type": "rect", "fill": "#C6D9F0", "stroke": "#4A6A94", "strokeWidth": 1.5},
      "encoding": {
        "x": {"field": "start", "type": "temporal"},
        "x2": {"field": "end"},
        "y": {"datum": 1},
        "y2": {"datum": 797}
      }
    },
    {
      "data": {"name": "note"},
      "mark": {"type": "text", "align": "left", "baseline": "top", "dx": 13, "dy": 46, "fontSize": 47, "font": "DejaVu Sans", "color": "black", "lineBreak": "\n", "lineHeight": 57.5},
      "encoding": {
        "x": {"field": "start", "type": "temporal"},
        "y": {"datum": 800},
        "text": {"field": "label"}
      }
    },
    {
      "mark": {"type": "line", "strokeWidth": 4, "clip": true},
      "encoding": {
        "y": {"field": "heizung", "type": "quantitative"},
        "color": {"datum": "Heizung", "type": "nominal",
          "legend": {"legendX": 104, "legendY": 619,
            "encode": {"symbols": {"update": {
              "shape": {"signal": "datum.value === 'Total' ? 'M-2.27,-0.75H2.27V0.75H-2.27Z' : 'M-2.27,0H2.27'"},
              "fill": {"signal": "datum.value === 'Total' ? '#F1B584' : 'transparent'"},
              "stroke": {"signal": "datum.value === 'Total' ? 'transparent' : (datum.value === 'Heizung' ? '#C0504D' : '#0033FF')"},
              "strokeWidth": {"signal": "datum.value === 'Total' ? 0 : (datum.value === 'BHKW 1' ? 2.5 : (datum.value === 'Heizung' ? 5 : 6))"},
              "strokeDash": {"signal": "datum.value === 'BHKW 1' ? [4, 2] : [1, 0]"},
              "opacity": {"value": 1}, "fillOpacity": {"signal": "datum.value === 'Total' ? 0.5 : 1"}, "strokeOpacity": {"signal": "datum.value === 'Total' ? 0 : 1"}
            }}}}
        }
      }
    },
    {
      "mark": {"type": "line", "strokeWidth": 4.5, "clip": true},
      "encoding": {
        "y": {"field": "bhkw", "type": "quantitative"},
        "color": {"datum": "BHKW 1 & 2", "type": "nominal",
          "legend": {"legendX": 104, "legendY": 619,
            "encode": {"symbols": {"update": {
              "shape": {"signal": "datum.value === 'Total' ? 'M-2.27,-0.75H2.27V0.75H-2.27Z' : 'M-2.27,0H2.27'"},
              "fill": {"signal": "datum.value === 'Total' ? '#F1B584' : 'transparent'"},
              "stroke": {"signal": "datum.value === 'Total' ? 'transparent' : (datum.value === 'Heizung' ? '#C0504D' : '#0033FF')"},
              "strokeWidth": {"signal": "datum.value === 'Total' ? 0 : (datum.value === 'BHKW 1' ? 2.5 : (datum.value === 'Heizung' ? 5 : 6))"},
              "strokeDash": {"signal": "datum.value === 'BHKW 1' ? [4, 2] : [1, 0]"},
              "opacity": {"value": 1}, "fillOpacity": {"signal": "datum.value === 'Total' ? 0.5 : 1"}, "strokeOpacity": {"signal": "datum.value === 'Total' ? 0 : 1"}
            }}}}
        }
      }
    }
  ]
}
]
}
